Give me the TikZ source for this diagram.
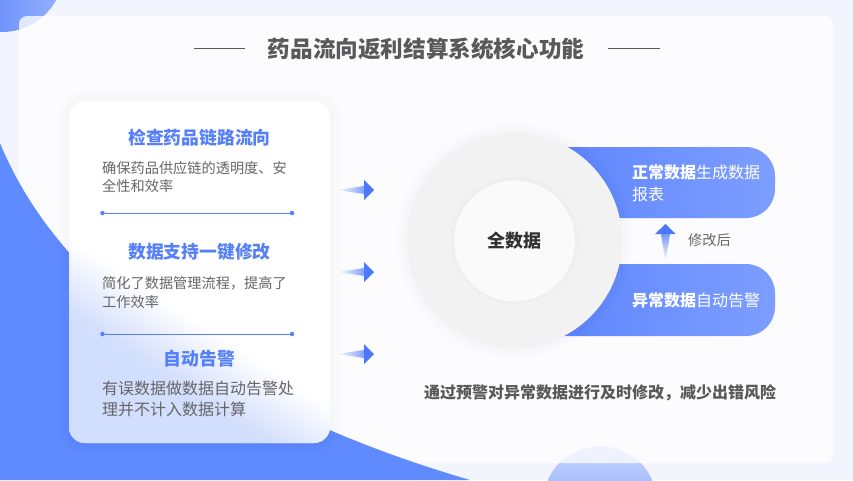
\documentclass[tikz,border=0pt]{standalone}
\usepackage{fontspec}
\setmainfont{Noto Sans CJK SC}
\definecolor{pagebg}{HTML}{F3F5FE}
\definecolor{mainblue}{HTML}{608AFF}
\definecolor{barblue}{HTML}{5A82FE}
\definecolor{barlight}{HTML}{7D9EFF}
\definecolor{headblue}{HTML}{5580F8}
\definecolor{arrowblue}{HTML}{4C78FA}
\definecolor{cardtint}{HTML}{D2DEFD}
\definecolor{textgray}{HTML}{666666}
\definecolor{titlegray}{HTML}{595959}
\begin{document}
\begin{tikzpicture}[
        x=1pt, y=-1pt,
        every node/.style={align=left, inner sep=0pt},
        pagetitle/.style={font=\fontsize{22.6}{26}\selectfont\bfseries, text=titlegray},
        cardhead/.style={font=\fontsize{17.8}{22}\selectfont\bfseries, text=headblue},
        cardtext/.style={font=\fontsize{14.2}{18.5}\selectfont, text=textgray, anchor=west},
        cardtextbig/.style={font=\fontsize{16}{21}\selectfont, text=textgray, anchor=west},
        bartext/.style={font=\fontsize{16}{22}\selectfont, text=white, anchor=west},
        divider/.style={draw=headblue, line width=0.9pt},
        softshadow/.style={draw=black, opacity=0.004}
    ]
    \useasboundingbox (0,0) rectangle (853,480);

    % Background
    \fill[pagebg] (0,0) rectangle (853,480);
    \shade[left color=arrowblue, right color=barlight!80] (2,-30) circle (62);
    \shade[top color=barlight!45, bottom color=barblue!85] (600,503) circle (57);
    \fill[white, opacity=0.76, rounded corners=8] (19,16) rectangle (833,463);
    \fill[mainblue] (0,143) .. controls (60,290) and (230,410) .. (470,480) -- (0,480) -- cycle;

    % Title
    \node (title) [pagetitle] at (426,49) {药品流向返利结算系统核心功能};
    \coordinate (ruleA) at (194,48);
    \coordinate (ruleB) at (660,48);
    \draw[titlegray, line width=0.8pt] (ruleA) -- (245,48);
    \draw[titlegray, line width=0.8pt] (608,48) -- (ruleB);

    % Card
    \foreach \s in {4,8,...,24}
        \draw[softshadow, line width=\s, rounded corners=16] (69,101) rectangle (330,443);
    \node (card) [fill=white, rounded corners=16, minimum width=261, minimum height=342] at (199.5,272) {};
    \begin{scope}
        \clip[rounded corners=16] (69,101) rectangle (330,443);
        \begin{scope}[transform canvas={rotate around={-33:(200,358)}}]
            \shade[top color=white, bottom color=cardtint] (-100,328) rectangle (500,392);
            \fill[cardtint] (-100,392) rectangle (500,600);
        \end{scope}
    \end{scope}

    % Card texts
    \node (headA) [cardhead] at (199.5,138) {检查药品链路流向};
    \node (textA) [cardtext] at (102,177) {确保药品供应链的透明度、安\\全性和效率};
    \node (headB) [cardhead] at (199.5,252) {数据支持一键修改};
    \node (textB) [cardtext] at (102,292.5) {简化了数据管理流程，提高了\\工作效率};
    \node (headC) [cardhead] at (199.5,359) {自动告警};
    \node (textC) [cardtextbig] at (102,398.5) {有误数据做数据自动告警处\\理并不计入数据计算};

    % Dividers
    \foreach \y/\name in {213/A,334/B}{
        \node (dot\name L) [circle, fill=headblue, minimum size=4.5] at (102.5,\y) {};
        \node (dot\name R) [circle, fill=headblue, minimum size=4.5] at (292,\y) {};
        \draw[divider] (dot\name L) -- (dot\name R);
    }

    % Arrows
    \foreach \y in {190,272,354}{
        \shade[left color=white, right color=arrowblue!70] (337,\y) -- (364,\y-4) -- (364,\y+4) -- cycle;
        \fill[arrowblue] (364,\y-10) -- (374,\y) -- (364,\y+10) -- cycle;
    }

    % Bars
    \shade[left color=barblue, right color=barlight, rounded corners=29] (520,147) -- (775,147) -- (775,218) -- (520,218) [sharp corners] -- cycle;
    \shade[left color=barblue, right color=barlight, rounded corners=29] (520,264) -- (775,264) -- (775,336) -- (520,336) [sharp corners] -- cycle;
    \node (barA) [bartext] at (632,183) {{\bfseries 正常数据}生成数据\\报表};
    \node (barB) [bartext] at (632,300.5) {{\bfseries 异常数据}自动告警};

    % Circles
    \foreach \s in {2,4,...,12}
        \fill[black, opacity=0.005] (514.5,240.5) circle (107.5+\s);
    \node (outer) [circle, fill=white!95!black, minimum size=215] at (514.5,240.5) {};
    \foreach \s in {2,4}
        \fill[black, opacity=0.006] (514.5,240.5) circle (60.5+\s);
    \node (inner) [circle, fill=white!98!black, minimum size=121, font=\fontsize{18}{22}\selectfont\bfseries, text=black!80, align=center] at (514.5,241) {全数据};

    % Up arrow
    \shade[top color=arrowblue!75, bottom color=white] (661,234) -- (670,234) -- (665.5,262) -- cycle;
    \fill[arrowblue] (655,234) -- (665.5,224) -- (675.5,234) -- cycle;
    \node (fixnote) [cardtext] at (688,240) {修改后};

    % Bottom line
    \node (summary) [font=\fontsize{16}{20}\selectfont\bfseries, text=titlegray, anchor=west] at (424,393) {通过预警对异常数据进行及时修改，减少出错风险};
\end{tikzpicture}
\end{document}
